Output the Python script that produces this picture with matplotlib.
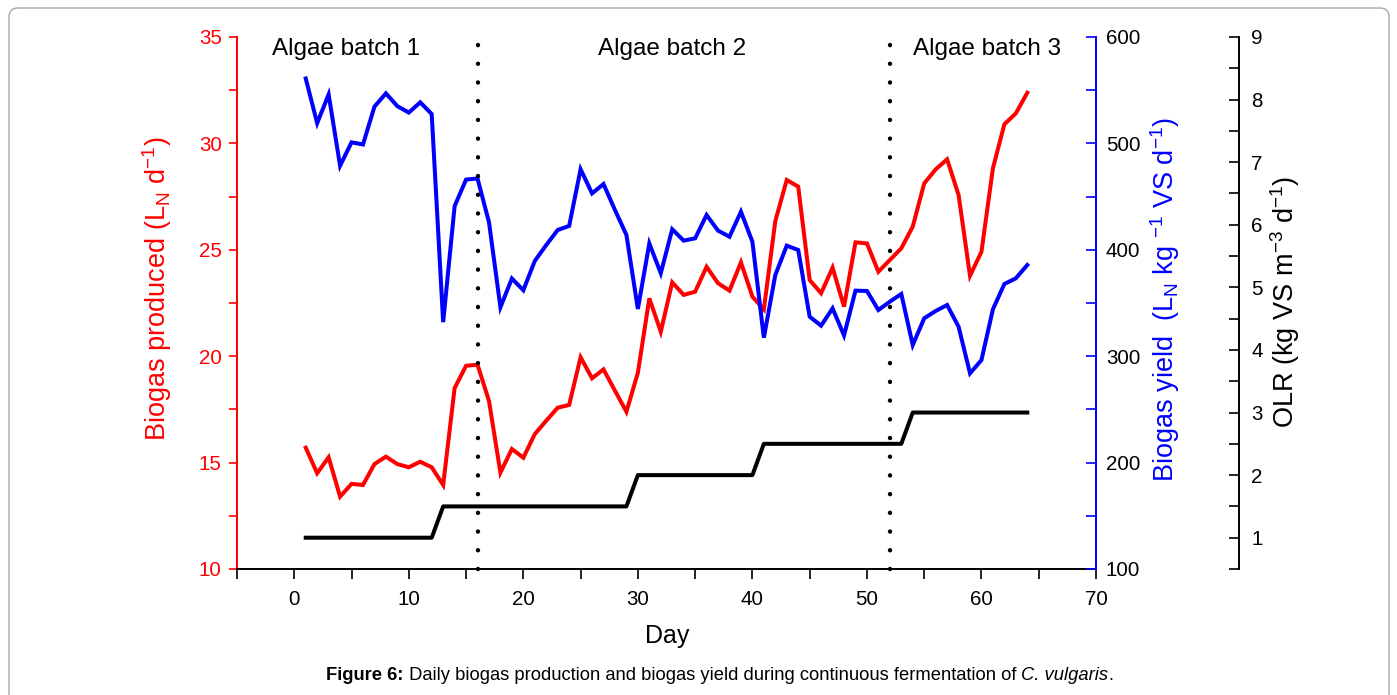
import matplotlib
matplotlib.use("Agg")
import matplotlib.pyplot as plt
from matplotlib.ticker import MultipleLocator
from matplotlib.patches import FancyBboxPatch
from matplotlib.transforms import IdentityTransform

plt.rcParams['font.family'] = ['Liberation Sans', 'DejaVu Sans']
plt.rcParams['mathtext.fontset'] = 'custom'
plt.rcParams['mathtext.rm'] = 'Liberation Sans'
plt.rcParams['mathtext.it'] = 'Liberation Sans:italic'
plt.rcParams['mathtext.bf'] = 'Liberation Sans:bold'

# ---------------- data ----------------
days = list(range(1, 65))
biogas_produced = [
    15.7, 14.5, 15.25, 13.4, 14.0, 13.95, 14.93, 15.28, 14.93, 14.78,
    15.04, 14.78, 13.95, 18.5, 19.55, 19.6, 17.9, 14.53, 15.64, 15.23,
    16.34, 16.97, 17.58, 17.71, 19.95, 18.96, 19.38, 18.38, 17.39, 19.22,
    22.72, 21.15, 23.47, 22.88, 23.03, 24.2, 23.43, 23.08, 24.41, 22.8,
    22.2, 26.35, 28.28, 27.97, 23.58, 22.96, 24.16, 22.33, 25.35, 25.3,
    23.97, 24.52, 25.07, 26.09, 28.12, 28.78, 29.25, 27.58, 23.78, 24.91,
    28.83, 30.9, 31.41, 32.38]
biogas_yield = [
    561, 519, 546, 479, 501, 499, 534.5, 547, 535, 529,
    538.6, 527.6, 332, 441, 466, 467, 426, 346, 373, 362,
    389.5, 404.5, 418.6, 422.4, 475.7, 453, 461.8, 437.4, 414, 344.4,
    406, 378, 419.3, 408.6, 410.8, 432.7, 418, 412.3, 435.8, 407.6,
    317.4, 376.3, 403.9, 399.8, 337.1, 328.7, 345, 319.5, 361.6, 361.3,
    343.4, 351.3, 358.5, 310.5, 335.6, 342.5, 348.1, 327.8, 283.9, 296.4,
    344.1, 367.9, 373.2, 385.7]
olr = [
    1.0, 1.0, 1.0, 1.0, 1.0, 1.0, 1.0, 1.0, 1.0, 1.0, 1.0, 1.0,
    1.5, 1.5, 1.5, 1.5, 1.5, 1.5, 1.5, 1.5, 1.5, 1.5, 1.5, 1.5, 1.5, 1.5, 1.5, 1.5, 1.5,
    2.0, 2.0, 2.0, 2.0, 2.0, 2.0, 2.0, 2.0, 2.0, 2.0, 2.0,
    2.5, 2.5, 2.5, 2.5, 2.5, 2.5, 2.5, 2.5, 2.5, 2.5, 2.5, 2.5, 2.5,
    3.0, 3.0, 3.0, 3.0, 3.0, 3.0, 3.0, 3.0, 3.0, 3.0, 3.0]
batch_boundaries = [16, 52]
batch_labels = ["Algae batch 1", "Algae batch 2", "Algae batch 3"]
batch_label_x = [4.5, 33.0, 60.5]

# ---------------- figure ----------------
W, H = 1397, 695
fig = plt.figure(figsize=(W / 100, H / 100), dpi=100)

# outer rounded frame
frame = FancyBboxPatch((9, -30), 1380, H - 8 + 30,
                       boxstyle="round,pad=0,rounding_size=9",
                       transform=IdentityTransform(), facecolor='none',
                       edgecolor='#a8a8a8', linewidth=1.0)
fig.patches.append(frame)

L, R, T, B = 237, 1096, 37, 569
ax = fig.add_axes([L / W, 1 - B / H, (R - L) / W, (B - T) / H])
ax2 = ax.twinx()
ax3 = ax.twinx()
ax3.spines['right'].set_position(('axes', 1 + 143 / (R - L)))

lw = 2.9
ax.plot(days, biogas_produced, color='#ff0000', lw=lw, solid_joinstyle='miter', zorder=3)
ax2.plot(days, biogas_yield, color='#0000ff', lw=lw, solid_joinstyle='miter', zorder=3)
ax3.plot(days, olr, color='black', lw=lw, zorder=3)

for xb in batch_boundaries:
    ax3.axvline(xb, ymin=0, ymax=1.012, color='black', lw=3.2,
                linestyle=(0, (0.01, 4.2)), dash_capstyle='round',
                clip_on=False, zorder=5)

# limits
ax.set_xlim(-5, 70)
ax.set_ylim(10, 35)
ax2.set_ylim(100, 600)
ax3.set_ylim(0.5, 9)

# spines
for s in ['top', 'right']:
    ax.spines[s].set_visible(False)
ax.spines['left'].set_color('#ff0000')
ax.spines['bottom'].set_color('black')
for s in ['left', 'top', 'bottom']:
    ax2.spines[s].set_visible(False)
    ax3.spines[s].set_visible(False)
ax2.spines['right'].set_color('#0000ff')
ax3.spines['right'].set_color('black')
for a, s in [(ax, 'left'), (ax, 'bottom'), (ax2, 'right'), (ax3, 'right')]:
    a.spines[s].set_linewidth(1.4)

fs_tick = 14.8
# x axis
ax.xaxis.set_major_locator(MultipleLocator(10))
ax.xaxis.set_minor_locator(MultipleLocator(5))
ax.tick_params(axis='x', which='both', direction='out', length=7, width=1.2,
               color='black', labelsize=fs_tick, pad=8)
# left axis
ax.yaxis.set_major_locator(MultipleLocator(5))
ax.yaxis.set_minor_locator(MultipleLocator(2.5))
ax.tick_params(axis='y', which='both', direction='out', length=6, width=1.2,
               color='#ff0000', labelcolor='#ff0000', labelsize=fs_tick, pad=5)
# blue axis
ax2.yaxis.set_major_locator(MultipleLocator(100))
ax2.yaxis.set_minor_locator(MultipleLocator(50))
ax2.tick_params(axis='y', which='both', direction='in', length=7, width=1.2,
                color='#0000ff', labelcolor='black', labelsize=fs_tick, pad=7)
# OLR axis
ax3.yaxis.set_major_locator(MultipleLocator(1))
ax3.yaxis.set_minor_locator(MultipleLocator(0.5))
ax3.tick_params(axis='y', which='both', direction='in', length=7, width=1.2,
                color='black', labelcolor='black', labelsize=fs_tick, pad=9)

# batch labels
for xl, t in zip(batch_label_x, batch_labels):
    ax.text(xl, 0.977, t, transform=ax.get_xaxis_transform(), ha='center',
            va='center', fontsize=17.5, color='black')

# axis labels (placed in figure pixels)
def ftext(x, y, s, **kw):
    return fig.text(x / W, 1 - y / H, s, **kw)

ftext(157, 289, r'Biogas produced (L$_{\mathrm{N}}$ d$^{\mathrm{-1}}$)',
      rotation=90, ha='center', va='center', fontsize=19.5, color='#ff0000')
ftext(1165, 300, r'Biogas yield  (L$_{\mathrm{N}}$ kg $^{\mathrm{-1}}$ VS d$^{\mathrm{-1}}$)',
      rotation=90, ha='center', va='center', fontsize=19.5, color='#0000ff')
ftext(1285, 302, r'OLR (kg VS m$^{\mathrm{-3}}$ d$^{\mathrm{-1}}$)',
      rotation=90, ha='center', va='center', fontsize=19.5, color='black')
ftext(667, 636, 'Day', ha='center', va='center', fontsize=18, color='black')

# caption built from pieces (bold / regular / italic / regular)
cap_parts = [("Figure 6:", dict(fontweight='bold')),
             (" Daily biogas production and biogas yield during continuous fermentation of ", {}),
             ("C. vulgaris", dict(fontstyle='italic')),
             (".", {})]
cap_fs = 13.2
cap_center_x, cap_y = 720, 675
renderer = fig.canvas.get_renderer()
widths = []
texts = []
for s, kw in cap_parts:
    t = fig.text(0, 1 - cap_y / H, s, ha='left', va='center', fontsize=cap_fs,
                 color='black', **kw)
    texts.append(t)
    widths.append(t.get_window_extent(renderer).width)
total = sum(widths)
x = cap_center_x - total / 2
for t, w in zip(texts, widths):
    t.set_x(x / W)
    x += w

fig.savefig('out.png', dpi=100)
